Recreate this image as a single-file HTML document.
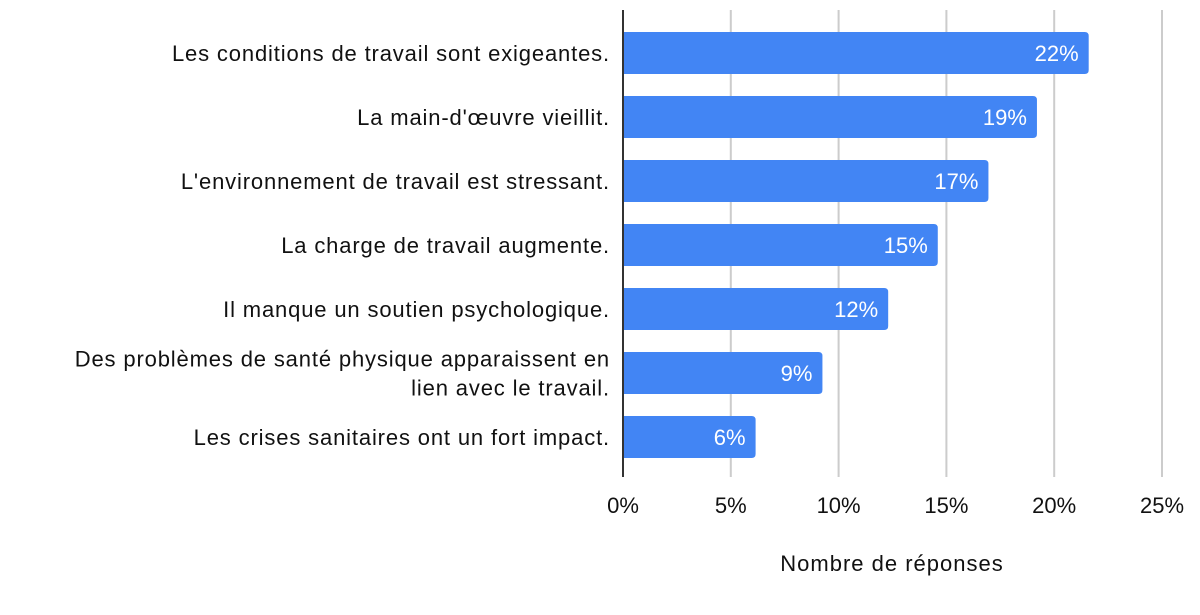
<!DOCTYPE html>
<html><head><meta charset="utf-8"><style>
body{margin:0;background:#fff;font-family:"Liberation Sans",Arial,sans-serif}
svg text{font-family:"Liberation Sans",Arial,sans-serif}
</style></head><body>
<svg id="chart" width="1200" height="610" xmlns="http://www.w3.org/2000/svg"></svg>
<script>
const categories=[["Les conditions de travail sont exigeantes."],["La main-d'œuvre vieillit."],["L'environnement de travail est stressant."],["La charge de travail augmente."],["Il manque un soutien psychologique."],["Des problèmes de santé physique apparaissent en","lien avec le travail."],["Les crises sanitaires ont un fort impact."]];
const values=[21.6,19.2,16.95,14.6,12.3,9.25,6.15];
const valueLabels=["22%","19%","17%","15%","12%","9%","6%"];
const ticks=[0,5,10,15,20,25];
const tickLabels=["0%","5%","10%","15%","20%","25%"];
const NS="http://www.w3.org/2000/svg";
const svg=document.getElementById('chart');
const x0=623,x1=1162,plotTop=10,plotBottom=477,step=64,firstY=32,bh=42;
const xs=v=>x0+(v/25)*(x1-x0);
function mk(t,a){const e=document.createElementNS(NS,t);for(const k in a)e.setAttribute(k,a[k]);svg.appendChild(e);return e;}
ticks.forEach((t,i)=>{
 if(t>0){const g=mk('line',{x1:xs(t),x2:xs(t),y1:plotTop,y2:plotBottom,stroke:'#cccccc','stroke-width':2});
 
 }
 const l=mk('text',{x:xs(t),y:513,'text-anchor':'middle','font-size':22,fill:'#111'});
 l.textContent=tickLabels[i];
 
 
});
values.forEach((v,i)=>{
 const y=firstY+i*step,w=xs(v)-x0,r=4;
 const p=mk('path',{d:`M${x0},${y}H${x0+w-r}Q${x0+w},${y} ${x0+w},${y+r}V${y+bh-r}Q${x0+w},${y+bh} ${x0+w-r},${y+bh}H${x0}Z`,fill:'#4285f4'});
 
 
 const t=mk('text',{x:x0+w-10,y:y+bh/2+8,'text-anchor':'end','font-size':22,fill:'#fff'});
 t.textContent=valueLabels[i];
 
 
 const lines=categories[i];
 lines.forEach((s,j)=>{
  const c=mk('text',{x:610,y:y+bh/2+8+(j-(lines.length-1)/2)*29,'text-anchor':'end','font-size':22,'letter-spacing':0.85,fill:'#111'});
  c.textContent=s;
  
  
 });
});
const ax=mk('line',{x1:x0,x2:x0,y1:plotTop,y2:plotBottom,stroke:'#333','stroke-width':2});


const tt=mk('text',{x:892,y:571,'text-anchor':'middle','font-size':22,'letter-spacing':1,fill:'#111'});
tt.textContent="Nombre de réponses";


</script>
</body></html>
